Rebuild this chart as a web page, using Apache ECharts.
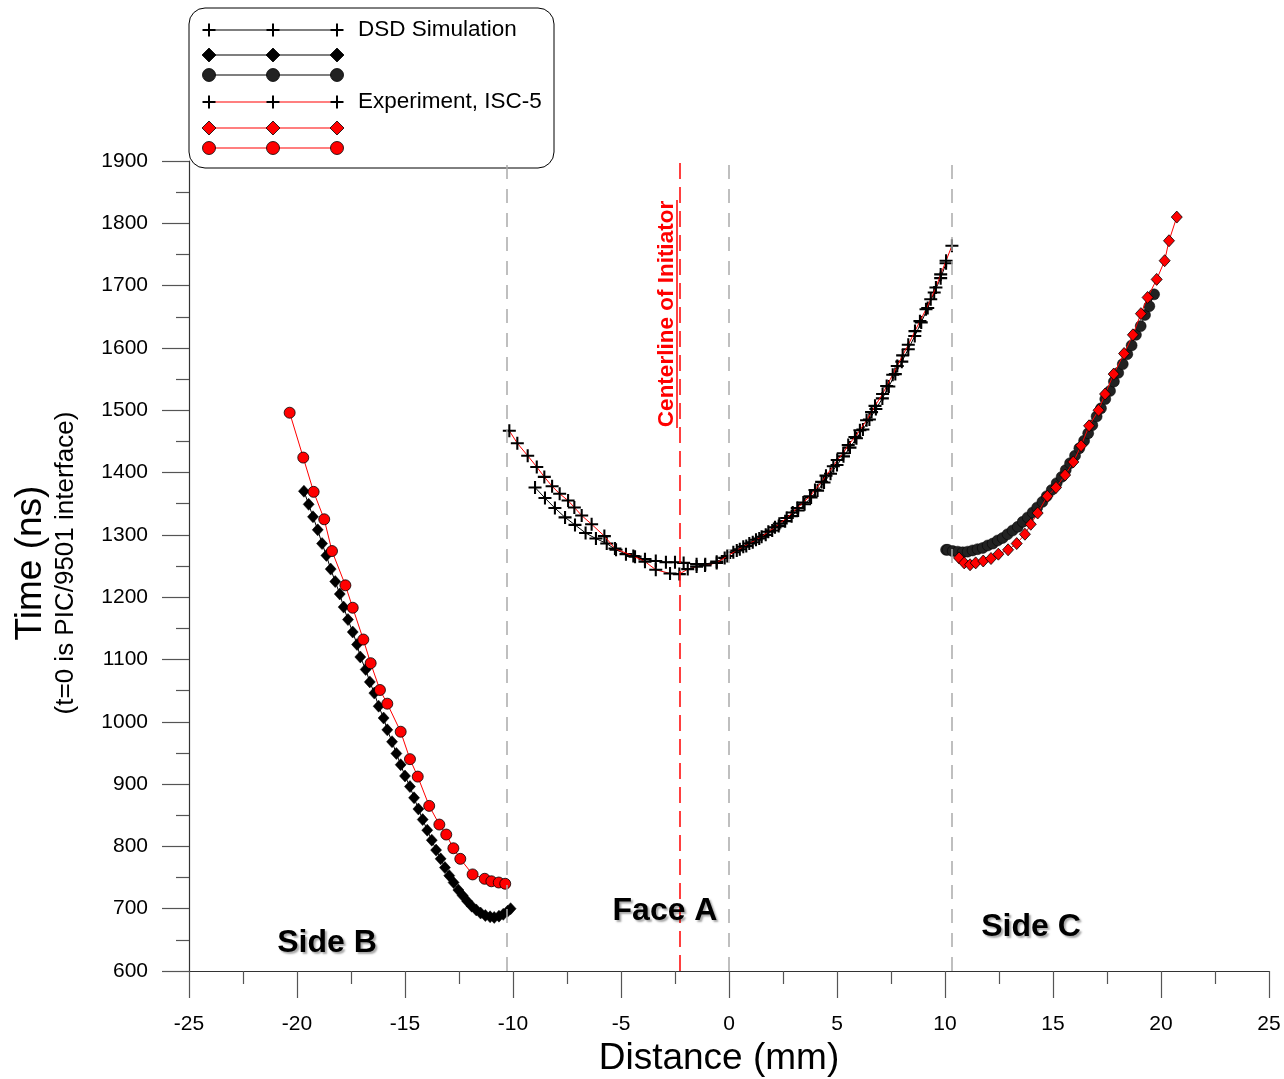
<!DOCTYPE html>
<html>
<head>
<meta charset="utf-8">
<script src="https://cdn.jsdelivr.net/npm/echarts@6/dist/echarts.min.js"></script>
<style>
html,body{margin:0;padding:0;background:#fff;}
#chart{width:1284px;height:1079px;}
</style>
</head>
<body>
<div id="chart"></div>
<script>
// ---------- DATA ----------
// Side B, experiment (red circles)
var sideB_exp = [
  [-20.34,1496],[-19.71,1424],[-19.23,1369],[-18.74,1325],[-18.38,1274],[-17.76,1219],
  [-17.42,1183],[-16.93,1132],[-16.59,1094],[-16.16,1051],[-15.82,1029],[-15.20,984],
  [-14.77,940],[-14.41,912],[-13.88,865],[-13.41,835],[-13.09,819],[-12.76,797],
  [-12.44,780],[-11.87,755],[-11.31,748],[-11.00,744],[-10.66,742],[-10.36,740]
];
// Side B, DSD simulation (black diamonds)
var sideB_dsd = [
  [-19.68,1370],[-19.46,1349],[-19.26,1329],[-19.04,1308],[-18.84,1286],[-18.64,1267],
  [-18.44,1245],[-18.23,1225],[-18.02,1205],[-17.84,1184],[-17.64,1164],[-17.42,1144],
  [-17.22,1124],[-17.07,1104],[-16.82,1084],[-16.63,1064],[-16.42,1046],[-16.22,1025],
  [-15.99,1006],[-15.82,987],[-15.60,968],[-15.40,949],[-15.20,931],[-15.00,913],
  [-14.77,896],[-14.58,878],[-14.38,860],[-14.18,843],[-13.97,826],[-13.76,810],
  [-13.56,794],[-13.35,780],[-13.15,766],[-12.95,753],[-12.75,742],[-12.53,730],
  [-12.33,721],[-12.12,712],[-11.91,704],[-11.70,698],[-11.50,693],[-11.28,689],
  [-11.06,687],[-10.87,686],[-10.65,688],[-10.45,691],[-10.25,696],[-10.11,700]
];
// Face A, experiment (red line, crosses)
var faceA_exp = [
  [-10.17,1467],[-9.80,1447],[-9.32,1427],[-8.90,1409],[-8.55,1393],[-8.19,1378],
  [-7.84,1366],[-7.45,1355],[-7.16,1344],[-6.82,1331],[-6.36,1317],[-5.77,1298],
  [-5.28,1278],[-4.43,1266],[-3.89,1257],[-3.39,1244],[-2.73,1238],[-2.30,1237],
  [-1.91,1245],[-1.50,1249],[-1.11,1251],[-0.57,1255],[-0.08,1266],
  [0.36,1275],[0.66,1281],[0.94,1286],[1.25,1292],[1.51,1297],[1.82,1305],[2.13,1312],
  [2.33,1318],[2.67,1327],[2.95,1336],[3.16,1343],[3.44,1352],[3.75,1362],[3.98,1372],
  [4.29,1385],[4.49,1395],[4.83,1410],[5.01,1420],[5.29,1431],[5.52,1444],[5.83,1457],
  [6.06,1468],[6.37,1484],[6.60,1497],[6.76,1507],[7.11,1526],[7.30,1539],[7.58,1557],
  [7.79,1571],[8.04,1588],[8.30,1605],[8.61,1627],[8.84,1643],[9.12,1662],[9.34,1678],
  [9.58,1697],[9.80,1718],[10.05,1740],[10.32,1764]
];
// Face A, DSD simulation (black line, crosses)
var faceA_dsd = [
  [-8.98,1376],[-8.52,1359],[-8.06,1343],[-7.59,1328],[-7.13,1316],[-6.64,1303],
  [-6.16,1294],[-5.66,1286],[-5.23,1276],[-4.77,1269],[-4.35,1265],[-3.89,1261],
  [-3.39,1258],[-2.92,1256],[-2.50,1256],[-2.10,1255],[-1.50,1253],[-1.10,1253],
  [-0.57,1257],[-0.20,1263],[0.20,1272],[0.50,1277],[0.80,1282],[1.10,1288],
  [1.40,1294],[1.70,1300],[2.00,1307],[2.30,1314],[2.60,1322],[2.90,1330],[3.20,1339],
  [3.50,1349],[3.80,1360],[4.10,1371],[4.40,1384],[4.70,1398],[5.00,1412],[5.30,1426],
  [5.60,1440],[5.90,1455],[6.20,1469],[6.50,1485],[6.80,1502],[7.10,1519],[7.40,1538],
  [7.70,1558],[8.00,1578],[8.30,1598],[8.60,1619],[8.90,1641],[9.20,1664],[9.50,1689],
  [9.80,1712],[10.05,1736]
];
// Side C, experiment (red diamonds)
var sideC_exp = [
  [10.65,1263],[10.89,1255],[11.16,1252],[11.42,1255],[11.77,1258],[12.13,1262],
  [12.47,1269],[12.92,1276],[13.32,1286],[13.70,1301],[13.97,1317],[14.29,1335],
  [14.74,1362],[15.14,1376],[15.56,1396],[15.94,1417],[16.30,1443],[16.67,1475],
  [17.11,1500],[17.41,1526],[17.81,1558],[18.29,1591],[18.70,1621],[19.07,1655],
  [19.38,1681],[19.80,1710],[20.17,1740],[20.37,1772],[20.73,1810]
];
// Side C, DSD simulation (black circles)
var sideC_dsd = [
  [10.05,1276],[10.13,1276],[10.36,1274],[10.59,1273],[10.82,1272],[11.05,1273],
  [11.28,1275],[11.51,1277],[11.75,1279],[11.98,1283],[12.21,1286],[12.44,1291],
  [12.67,1295],[12.90,1301],[13.13,1307],[13.37,1313],[13.60,1321],[13.83,1328],
  [14.06,1336],[14.27,1344],[14.51,1353],[14.71,1362],[14.94,1372],[15.17,1383],
  [15.40,1393],[15.59,1404],[15.79,1415],[16.02,1427],[16.22,1439],[16.44,1451],
  [16.63,1463],[16.82,1476],[17.02,1490],[17.22,1503],[17.42,1518],[17.64,1531],
  [17.82,1546],[18.02,1560],[18.23,1574],[18.44,1590],[18.64,1604],[18.84,1621],
  [19.06,1635],[19.26,1653],[19.46,1667],[19.68,1686]
];
var boundaries = [-10.3, 0, 10.3];
var centerline = -2.3;
var legendLabels = ['DSD Simulation', 'Experiment, ISC-5'];
var regionLabels = ['Side B', 'Face A', 'Side C'];

// ---------- STYLE ----------
var FONT = 'Liberation Sans, Arial, Helvetica, sans-serif';
var CROSS = 'path://M4.2,0 L5.8,0 L5.8,4.2 L10,4.2 L10,5.8 L5.8,5.8 L5.8,10 L4.2,10 L4.2,5.8 L0,5.8 L0,4.2 L4.2,4.2 Z';
var RED = '#ff0000';

var chart = echarts.init(document.getElementById('chart'), null, {renderer:'canvas'});

function axisCommon() {
  return {
    axisLine: {show: true, onZero: false, lineStyle: {color: '#333', width: 1.2}},
    axisTick: {show: true, inside: false, length: 27, lineStyle: {color: '#555', width: 1.2}},
    minorTick: {show: true, splitNumber: 2, length: 13, lineStyle: {color: '#555', width: 1.2}},
    splitLine: {show: false},
    minorSplitLine: {show: false}
  };
}
function plain(v) { return String(v); }

var xAxis = Object.assign(axisCommon(), {
  type: 'value', min: -25, max: 25, interval: 5,
  axisLabel: {fontFamily: FONT, fontSize: 21, color: '#000', margin: 43, formatter: plain},
  name: 'Distance (mm)', nameLocation: 'middle', nameGap: 68,
  nameTextStyle: {fontFamily: FONT, fontSize: 37, color: '#000', padding: [0, 20, 0, 0]}
});
var yAxis = Object.assign(axisCommon(), {
  type: 'value', min: 600, max: 1900, interval: 100,
  axisLabel: {fontFamily: FONT, fontSize: 21, color: '#000', margin: 41, formatter: plain}
});

function legendRow(y, kind, lineColor, fill) {
  var els = [];
  els.push({type: 'line', shape: {x1: 209, y1: y, x2: 337, y2: y}, style: {stroke: lineColor, lineWidth: 1.2}});
  [209, 273, 337].forEach(function (x) {
    if (kind === 'cross') {
      els.push({type: 'rect', shape: {x: x - 6.5, y: y - 1, width: 13, height: 2}, style: {fill: '#000'}});
      els.push({type: 'rect', shape: {x: x - 1, y: y - 6.5, width: 2, height: 13}, style: {fill: '#000'}});
    } else if (kind === 'diamond') {
      els.push({type: 'polygon', shape: {points: [[x, y - 7], [x + 7, y], [x, y + 7], [x - 7, y]]}, style: {fill: fill, stroke: '#000', lineWidth: 0.8}});
    } else {
      els.push({type: 'circle', shape: {cx: x, cy: y, r: 6.5}, style: {fill: fill, stroke: '#000', lineWidth: 0.8}});
    }
  });
  return els;
}

var legendEls = [
  {type: 'rect', shape: {x: 189, y: 8, width: 365, height: 160, r: 16}, style: {fill: '#fff', stroke: '#000', lineWidth: 1}}
];
legendEls = legendEls
  .concat(legendRow(30, 'cross', '#000', '#000'))
  .concat(legendRow(55, 'diamond', '#000', '#000'))
  .concat(legendRow(75, 'circle', '#000', '#222'))
  .concat(legendRow(102, 'cross', RED, '#000'))
  .concat(legendRow(128, 'diamond', RED, RED))
  .concat(legendRow(148, 'circle', RED, RED));
legendEls.push({type: 'text', style: {text: legendLabels[0], x: 358, y: 30, fill: '#000', font: '22.5px ' + FONT, textVerticalAlign: 'middle'}});
legendEls.push({type: 'text', style: {text: legendLabels[1], x: 358, y: 102, fill: '#000', font: '22.5px ' + FONT, textVerticalAlign: 'middle'}});

function regionText(t, x, y) {
  return {type: 'text', z: 50, style: {text: t, x: x, y: y, fill: '#000', font: 'bold 32px ' + FONT,
    textAlign: 'center', textVerticalAlign: 'middle',
    textShadowColor: 'rgba(0,0,0,0.35)', textShadowBlur: 2, textShadowOffsetX: 2, textShadowOffsetY: 2}};
}

var graphics = [
  {type: 'text', z: 50, rotation: Math.PI / 2, x: 31, y: 563,
    style: {text: 'Time (ns)', fill: '#000', font: '37px ' + FONT, textAlign: 'center', textVerticalAlign: 'middle'}},
  {type: 'text', z: 50, rotation: Math.PI / 2, x: 66, y: 563,
    style: {text: '(t=0 is PIC/9501 interface)', fill: '#000', font: '26px ' + FONT, textAlign: 'center', textVerticalAlign: 'middle'}},
  {type: 'text', z: 50, rotation: Math.PI / 2, x: 667, y: 314,
    style: {text: 'Centerline of Initiator', fill: RED, font: 'bold 22.5px ' + FONT, textAlign: 'center', textVerticalAlign: 'middle'}},
  {type: 'line', z: 50, shape: {x1: 677, y1: 200, x2: 677, y2: 428}, style: {stroke: RED, lineWidth: 1.5}},
  regionText(regionLabels[0], 327, 943),
  regionText(regionLabels[1], 665, 911),
  regionText(regionLabels[2], 1031, 927),
  {type: 'group', z: 60, children: legendEls}
];

var markLineData = boundaries.map(function (b) {
  return {xAxis: b, lineStyle: {color: '#aaa', width: 1.5, type: [14, 10]}};
});
markLineData.push({xAxis: centerline, lineStyle: {color: RED, width: 1.5, type: [16, 8]}});

var option = {
  animation: false,
  backgroundColor: '#fff',
  grid: {left: 189, right: 15, top: 161, bottom: 108, containLabel: false, outerBoundsMode: 'none'},
  xAxis: xAxis,
  yAxis: yAxis,
  graphic: graphics,
  series: [
    {name: 'refs', type: 'line', data: [], z: 1, silent: true,
      markLine: {silent: true, symbol: ['none', 'none'], label: {show: false}, data: markLineData}},
    {name: 'DSD Simulation B', type: 'line', data: sideB_dsd, z: 3,
      symbol: 'diamond', symbolSize: [11, 12], lineStyle: {color: '#000', width: 1},
      itemStyle: {color: '#000', borderColor: '#000', borderWidth: 0.5}},
    {name: 'Experiment B', type: 'line', data: sideB_exp, z: 4,
      symbol: 'circle', symbolSize: 11, lineStyle: {color: RED, width: 1},
      itemStyle: {color: RED, borderColor: '#000', borderWidth: 0.8}},
    {name: 'DSD Simulation A', type: 'line', data: faceA_dsd, z: 3,
      symbol: CROSS, symbolSize: 13, lineStyle: {color: '#000', width: 1},
      itemStyle: {color: '#000'}},
    {name: 'Experiment A', type: 'line', data: faceA_exp, z: 4,
      symbol: CROSS, symbolSize: 13, lineStyle: {color: RED, width: 1},
      itemStyle: {color: '#000'}},
    {name: 'DSD Simulation C', type: 'line', data: sideC_dsd, z: 3,
      symbol: 'circle', symbolSize: 11, lineStyle: {color: '#000', width: 1},
      itemStyle: {color: '#222', borderColor: '#000', borderWidth: 0.5}},
    {name: 'Experiment C', type: 'line', data: sideC_exp, z: 4,
      symbol: 'diamond', symbolSize: [11, 12], lineStyle: {color: RED, width: 1},
      itemStyle: {color: RED, borderColor: '#000', borderWidth: 0.8}}
  ]
};
chart.setOption(option);
</script>
</body>
</html>
